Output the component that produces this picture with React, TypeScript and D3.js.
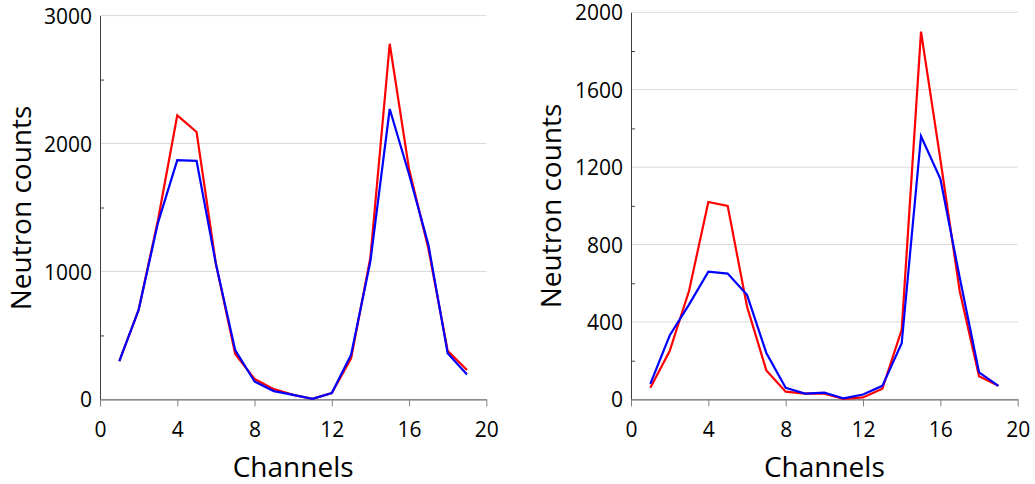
import React, { useRef, useEffect } from "react";
import * as d3 from "d3";

// Channel numbers shared by both panels
const channels = [1, 2, 3, 4, 5, 6, 7, 8, 9, 10, 11, 12, 13, 14, 15, 16, 17, 18, 19];

// Left panel
const leftRed = [300, 700, 1400, 2220, 2090, 1060, 355, 160, 80, 35, 5, 50, 320, 1110, 2780, 1800, 1180, 380, 230];
const leftBlue = [300, 700, 1380, 1870, 1865, 1060, 385, 140, 65, 35, 5, 50, 350, 1080, 2270, 1760, 1210, 360, 195];
const leftYTicks = [0, 1000, 2000, 3000];
const leftYMinor = [500, 1500, 2500];

// Right panel
const rightRed = [60, 250, 560, 1020, 1000, 480, 150, 40, 30, 30, 3, 10, 55, 360, 1900, 1240, 560, 120, 70];
const rightBlue = [80, 330, 490, 660, 650, 540, 240, 60, 30, 35, 5, 25, 70, 290, 1360, 1140, 630, 140, 70];
const rightYTicks = [0, 400, 800, 1200, 1600, 2000];
const rightYMinor = [200, 600, 1000, 1400, 1800];

const xTicks = [0, 4, 8, 12, 16, 20];

const FONT = "'Open Sans', sans-serif";

const drawPanel = (svg, opts) => {
  const { left, right, top, bottom, yMax, yTicks, yMinor, red, blue, titleX, titleY } = opts;

  const x = d3.scaleLinear().domain([0, 20]).range([left, right]);
  const y = d3.scaleLinear().domain([0, yMax]).range([bottom, top]);

  const g = svg.append("g");

  // Gridlines at major y ticks
  g.selectAll(".grid")
    .data(yTicks.filter((d) => d > 0))
    .enter()
    .append("line")
    .attr("x1", left)
    .attr("x2", right)
    .attr("y1", (d) => y(d))
    .attr("y2", (d) => y(d))
    .attr("stroke", "#d9d9d9")
    .attr("stroke-width", 1);

  // Y axis (minor ticks inside)
  const yAxis = g
    .append("g")
    .attr("transform", `translate(${left},0)`)
    .call(d3.axisRight(y).tickValues(yMinor).tickSize(4).tickFormat(() => "").tickSizeOuter(0));
  yAxis.select(".domain").attr("stroke", "#404040");
  yAxis.selectAll(".tick line").attr("stroke", "#404040");

  // Y tick labels
  g.selectAll(".ylab")
    .data(yTicks)
    .enter()
    .append("text")
    .attr("x", left - 8)
    .attr("y", (d) => y(d) + 0.5)
    .attr("dy", "0.36em")
    .attr("text-anchor", "end")
    .style("font-family", FONT)
    .style("font-size", "21px")
    .attr("fill", "#000")
    .text((d) => d);

  // X axis
  const xAxis = g
    .append("g")
    .attr("transform", `translate(0,${bottom})`)
    .call(d3.axisBottom(x).tickValues(xTicks).tickSize(7).tickSizeOuter(0).tickPadding(16));
  xAxis.select(".domain").attr("stroke", "#404040");
  xAxis.selectAll(".tick line").attr("stroke", "#808080");
  xAxis
    .selectAll(".tick text")
    .style("font-family", FONT)
    .style("font-size", "21px")
    .attr("fill", "#000");

  // Lines
  const line = d3
    .line()
    .x((d, i) => x(channels[i]))
    .y((d) => y(d));

  g.append("path")
    .datum(red)
    .attr("d", line)
    .attr("fill", "none")
    .attr("stroke", "#ff0000")
    .attr("stroke-width", 2.2);

  g.append("path")
    .datum(blue)
    .attr("d", line)
    .attr("fill", "none")
    .attr("stroke", "#0000ff")
    .attr("stroke-width", 2.2);

  // Axis titles
  g.append("text")
    .attr("x", (left + right) / 2)
    .attr("y", 477)
    .attr("text-anchor", "middle")
    .style("font-family", FONT)
    .style("font-size", "28px")
    .attr("fill", "#000")
    .text("Channels");

  g.append("text")
    .attr("transform", `translate(${titleX},${titleY}) rotate(-90)`)
    .attr("text-anchor", "middle")
    .style("font-family", FONT)
    .style("font-size", "28px")
    .attr("fill", "#000")
    .text("Neutron counts");
};

const App = () => {
  const svgRef = useRef();

  useEffect(() => {
    d3.select(svgRef.current).selectAll("*").remove();
    const svg = d3.select(svgRef.current).attr("width", 1035).attr("height", 484);

    drawPanel(svg, {
      left: 100,
      right: 486.3,
      top: 15.6,
      bottom: 399.4,
      yMax: 3000,
      yTicks: leftYTicks,
      yMinor: leftYMinor,
      red: leftRed,
      blue: leftBlue,
      titleX: 31,
      titleY: 208,
    });

    drawPanel(svg, {
      left: 631,
      right: 1017.7,
      top: 12.3,
      bottom: 399.4,
      yMax: 2000,
      yTicks: rightYTicks,
      yMinor: rightYMinor,
      red: rightRed,
      blue: rightBlue,
      titleX: 561,
      titleY: 206,
    });
  }, []);

  return (
    <svg
      ref={svgRef}
      style={{ position: "absolute", left: 0, top: 0, background: "#fff" }}
    ></svg>
  );
};

export default App;
